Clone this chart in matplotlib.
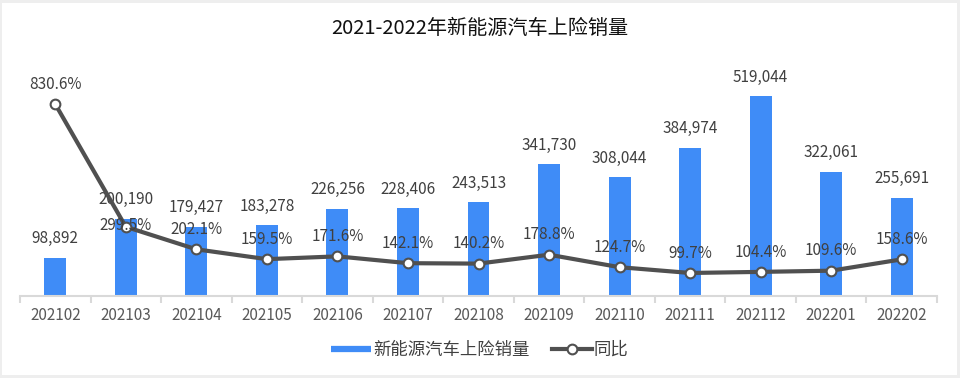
import matplotlib
matplotlib.use("Agg")
import matplotlib.pyplot as plt
from matplotlib.lines import Line2D
from matplotlib.patches import Rectangle
import numpy as np

plt.rcParams['font.family'] = ['Noto Sans CJK SC', 'DejaVu Sans']

months = ["202102", "202103", "202104", "202105", "202106", "202107", "202108",
          "202109", "202110", "202111", "202112", "202201", "202202"]
sales = [98892, 200190, 179427, 183278, 226256, 228406, 243513,
         341730, 308044, 384974, 519044, 322061, 255691]
yoy = [830.6, 299.5, 202.1, 159.5, 171.6, 142.1, 140.2,
       178.8, 124.7, 99.7, 104.4, 109.6, 158.6]

title = "2021-2022年新能源汽车上险销量"
bar_name = "新能源汽车上险销量"
line_name = "同比"

bar_color = "#3F8CF7"
line_color = "#505050"
text_color = "#404040"
axis_color = "#D9D9D9"

fig = plt.figure(figsize=(9.6, 3.78), dpi=100, facecolor="#EEEEEE")
fig.patches.append(Rectangle((2/960, 3/378), 955/960, 372/378, transform=fig.transFigure,
                             facecolor="white", edgecolor="none", zorder=-10))

ax = fig.add_axes([20/960, 82/378, 917/960, 231/378])
ax.set_facecolor("none")
x = np.arange(len(months))
bars = ax.bar(x, sales, width=0.31, color=bar_color, zorder=2)
ax.set_xlim(-0.5, len(months) - 0.5)
ax.set_ylim(0, 600000)
ax.set_yticks([])
for s in ["top", "right", "left"]:
    ax.spines[s].set_visible(False)
ax.spines["bottom"].set_color(axis_color)
ax.spines["bottom"].set_linewidth(1.5)
ax.set_xticks(x)
ax.set_xticklabels(months, fontsize=11, color="#595959")
ax.tick_params(axis="x", which="major", length=0, pad=8)
ax.set_xticks(np.arange(-0.5, len(months)), minor=True)
ax.tick_params(axis="x", which="minor", length=5, width=1.5, color=axis_color)

for xi, v in zip(x, sales):
    ax.annotate(f"{v:,}", (xi, v), xytext=(0, 10.5), textcoords="offset points",
                ha="center", va="baseline", fontsize=11, color=text_color, zorder=5)

ax2 = ax.twinx()
ax2.set_ylim(0, 1000)
ax2.set_yticks([])
for s in ["top", "right", "left", "bottom"]:
    ax2.spines[s].set_visible(False)
ax2.plot(x, yoy, color=line_color, lw=3, marker="o", ms=7, mfc="white",
         mec=line_color, mew=1.5, zorder=3)
for i, (xi, v) in enumerate(zip(x, yoy)):
    dy = -2 if i == 1 else 11
    ax2.annotate(f"{v:.1f}%", (xi, v), xytext=(0, dy), textcoords="offset points",
                 ha="center", va="baseline", fontsize=11, color=text_color, zorder=5)

fig.text(480/960, 1 - 28/378, title, ha="center", va="center", fontsize=14.5, color="#111111")

handles = [Line2D([], [], color=bar_color, lw=4.5, solid_capstyle="butt"),
           Line2D([], [], color=line_color, lw=3, marker="o", ms=7, mfc="white",
                  mec=line_color, mew=1.5)]
fig.legend(handles, [bar_name, line_name], loc="center", bbox_to_anchor=(480/960, 1 - 350/378),
           ncol=2, frameon=False, fontsize=12.5, labelcolor=text_color,
           handlelength=2.3, handletextpad=0.1, columnspacing=1.3)

fig.savefig("out.png", dpi=100, facecolor=fig.get_facecolor())
